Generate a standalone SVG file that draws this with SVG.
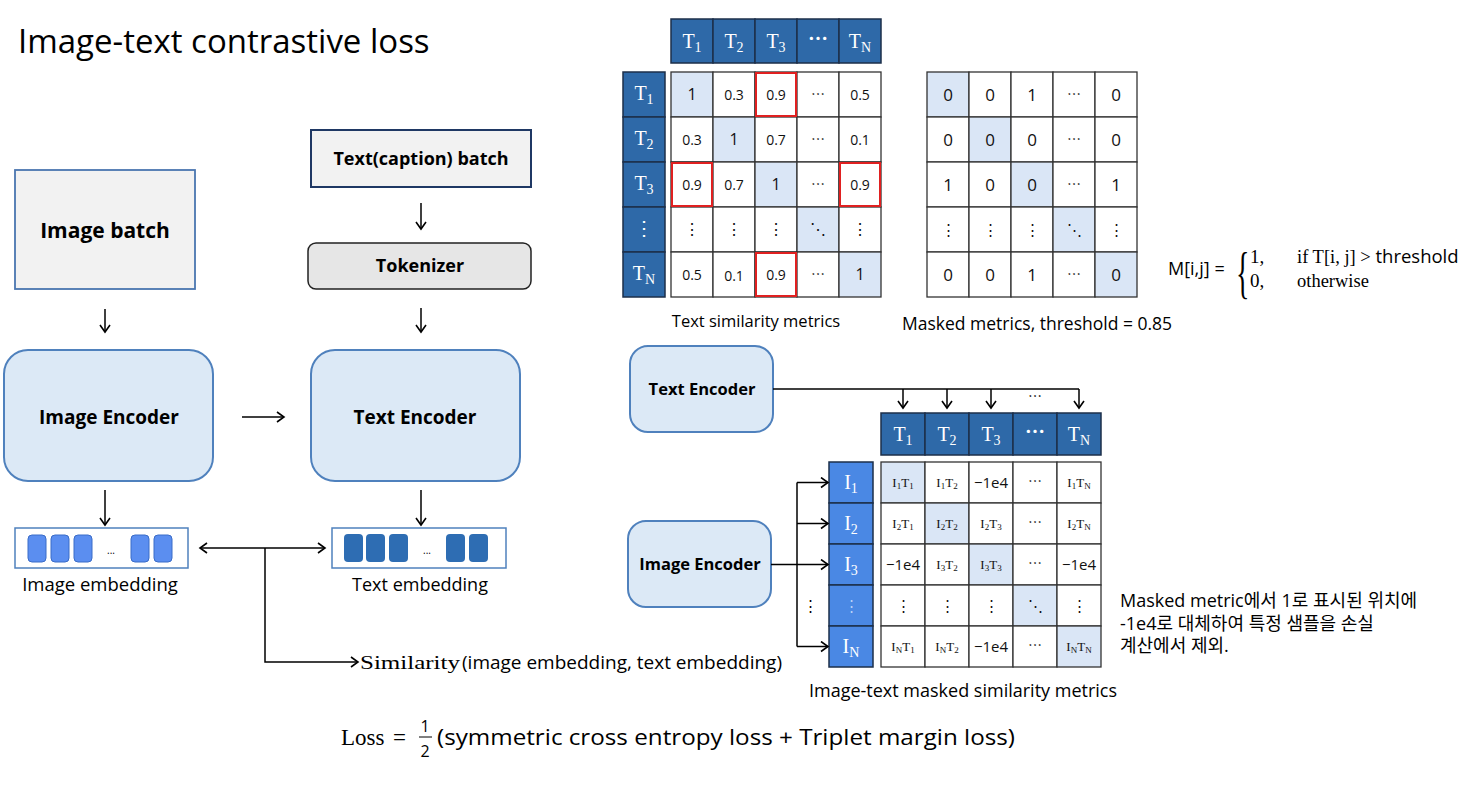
<svg xmlns="http://www.w3.org/2000/svg" width="1461" height="791" viewBox="0 0 1461 791">
<defs>
<marker id="ah" markerWidth="12" markerHeight="12" refX="9" refY="6" orient="auto-start-reverse" markerUnits="userSpaceOnUse">
<path d="M2,1 L9,6 L2,11" fill="none" stroke="#000" stroke-width="1.6"/>
</marker>
<style>
.sans{font-family:"Open Sans","Noto Sans CJK KR",sans-serif;}
.serif{font-family:"Liberation Serif","DejaVu Serif","Noto Sans CJK KR",serif;}
.b{font-weight:bold;}
.ln{fill:none;stroke:#000;stroke-width:1.5;}
.arr{fill:none;stroke:#000;stroke-width:1.5;marker-end:url(#ah);}
.hdr{fill:#2e69a8;stroke:#1c2f4a;stroke-width:1.5;}
.icol{fill:#4a88e4;stroke:#1c2f4a;stroke-width:1.5;}
.cell{fill:#fff;stroke:#333;stroke-width:1.3;}
.hl{fill:#dae6f6;stroke:#333;stroke-width:1.3;}
.red{fill:none;stroke:#e02020;stroke-width:2;}
.wt{fill:#fff;font-size:20px;}
.ct{font-size:14px;fill:#111;}
.ij{font-size:13px;fill:#111;}
.enc{fill:#dce9f6;stroke:#4f81bd;stroke-width:2;}
.ec1{fill:#5b8ef0;stroke:#3a6cc8;stroke-width:1;}
.ec2{fill:#2e6db3;}
</style>
</defs>

<text x="18" y="53" class="sans" font-size="33" fill="#000">Image-text contrastive loss</text>

<!-- Left pipeline -->
<g id="image-batch">
<rect x="15" y="170" width="180" height="119" fill="#f2f2f2" stroke="#4a76b0" stroke-width="1.8"/>
<text x="105" y="238" class="sans b" font-size="21" text-anchor="middle">Image batch</text>
</g>
<g id="text-batch">
<rect x="311" y="130" width="220" height="57" fill="#f2f2f2" stroke="#1f3864" stroke-width="2"/>
<text x="421" y="165" class="sans b" font-size="18" text-anchor="middle">Text(caption) batch</text>
</g>
<g id="tokenizer">
<rect x="308" y="243" width="223" height="46" rx="8" fill="#e6e6e6" stroke="#222" stroke-width="1.5"/>
<text x="420" y="272" class="sans b" font-size="18" text-anchor="middle">Tokenizer</text>
</g>
<g id="image-encoder">
<rect x="4" y="350" width="209" height="131" rx="24" class="enc"/>
<text x="109" y="424" class="sans b" font-size="19" text-anchor="middle">Image Encoder</text>
</g>
<g id="text-encoder">
<rect x="311" y="350" width="209" height="131" rx="24" class="enc"/>
<text x="415" y="424" class="sans b" font-size="19" text-anchor="middle">Text Encoder</text>
</g>
<g id="image-embedding">
<rect x="15" y="528" width="173" height="40" fill="#fff" stroke="#4f81bd" stroke-width="1.5"/>
<rect x="28" y="535" width="18" height="27" rx="4" class="ec1"/>
<rect x="51" y="535" width="18" height="27" rx="4" class="ec1"/>
<rect x="74" y="535" width="18" height="27" rx="4" class="ec1"/>
<text x="111" y="554" class="sans" font-size="10" text-anchor="middle">...</text>
<rect x="131" y="535" width="18" height="27" rx="4" class="ec1"/>
<rect x="154" y="535" width="18" height="27" rx="4" class="ec1"/>
<text x="100" y="591" class="sans" font-size="18.5" text-anchor="middle">Image embedding</text>
</g>
<g id="text-embedding">
<rect x="332" y="528" width="174" height="40" fill="#fff" stroke="#4f81bd" stroke-width="1.5"/>
<rect x="344" y="534" width="19" height="28" rx="4" class="ec2"/>
<rect x="366" y="534" width="19" height="28" rx="4" class="ec2"/>
<rect x="389" y="534" width="19" height="28" rx="4" class="ec2"/>
<text x="427" y="554" class="sans" font-size="10" text-anchor="middle">...</text>
<rect x="446" y="534" width="19" height="28" rx="4" class="ec2"/>
<rect x="469" y="534" width="19" height="28" rx="4" class="ec2"/>
<text x="420" y="591" class="sans" font-size="18" text-anchor="middle">Text embedding</text>
</g>
<g id="similarity-label">
<text x="360" y="669" class="serif" font-size="18" textLength="100" lengthAdjust="spacingAndGlyphs">Similarity</text>
<text x="462" y="669" class="sans" font-size="18" textLength="320" lengthAdjust="spacingAndGlyphs">(image embedding, text embedding)</text>
</g>

<!-- Top text similarity matrix -->
<g id="text-sim-matrix">
<rect x="671" y="19" width="42" height="44" class="hdr"/>
<rect x="713" y="19" width="42" height="44" class="hdr"/>
<rect x="755" y="19" width="42" height="44" class="hdr"/>
<rect x="797" y="19" width="42" height="44" class="hdr"/>
<rect x="839" y="19" width="42" height="44" class="hdr"/>
<text x="692" y="48" class="serif wt" text-anchor="middle">T<tspan dy="4" font-size="14">1</tspan></text>
<text x="734" y="48" class="serif wt" text-anchor="middle">T<tspan dy="4" font-size="14">2</tspan></text>
<text x="776" y="48" class="serif wt" text-anchor="middle">T<tspan dy="4" font-size="14">3</tspan></text>
<text x="818" y="46" class="sans wt b" font-size="16" text-anchor="middle">⋯</text>
<text x="860" y="48" class="serif wt" text-anchor="middle">T<tspan dy="4" font-size="14">N</tspan></text>

<rect x="623" y="72" width="42" height="45" class="hdr"/>
<rect x="623" y="117" width="42" height="45" class="hdr"/>
<rect x="623" y="162" width="42" height="45" class="hdr"/>
<rect x="623" y="207" width="42" height="45" class="hdr"/>
<rect x="623" y="252" width="42" height="45" class="hdr"/>
<text x="644" y="100" class="serif wt" text-anchor="middle">T<tspan dy="4" font-size="14">1</tspan></text>
<text x="644" y="145" class="serif wt" text-anchor="middle">T<tspan dy="4" font-size="14">2</tspan></text>
<text x="644" y="190" class="serif wt" text-anchor="middle">T<tspan dy="4" font-size="14">3</tspan></text>
<text x="644" y="235" class="sans wt" font-size="16" text-anchor="middle">⋮</text>
<text x="644" y="280" class="serif wt" text-anchor="middle">T<tspan dy="4" font-size="14">N</tspan></text>

<rect x="671" y="72" width="42" height="45" class="hl"/>
<rect x="713" y="72" width="42" height="45" class="cell"/>
<rect x="755" y="72" width="42" height="45" class="cell"/>
<rect x="797" y="72" width="42" height="45" class="cell"/>
<rect x="839" y="72" width="42" height="45" class="cell"/>
<rect x="671" y="117" width="42" height="45" class="cell"/>
<rect x="713" y="117" width="42" height="45" class="hl"/>
<rect x="755" y="117" width="42" height="45" class="cell"/>
<rect x="797" y="117" width="42" height="45" class="cell"/>
<rect x="839" y="117" width="42" height="45" class="cell"/>
<rect x="671" y="162" width="42" height="45" class="cell"/>
<rect x="713" y="162" width="42" height="45" class="cell"/>
<rect x="755" y="162" width="42" height="45" class="hl"/>
<rect x="797" y="162" width="42" height="45" class="cell"/>
<rect x="839" y="162" width="42" height="45" class="cell"/>
<rect x="671" y="207" width="42" height="45" class="cell"/>
<rect x="713" y="207" width="42" height="45" class="cell"/>
<rect x="755" y="207" width="42" height="45" class="cell"/>
<rect x="797" y="207" width="42" height="45" class="hl"/>
<rect x="839" y="207" width="42" height="45" class="cell"/>
<rect x="671" y="252" width="42" height="45" class="cell"/>
<rect x="713" y="252" width="42" height="45" class="cell"/>
<rect x="755" y="252" width="42" height="45" class="cell"/>
<rect x="797" y="252" width="42" height="45" class="cell"/>
<rect x="839" y="252" width="42" height="45" class="hl"/>

<rect x="756" y="73" width="40" height="43" class="red"/>
<rect x="672" y="163" width="40" height="43" class="red"/>
<rect x="840" y="163" width="40" height="43" class="red"/>
<rect x="756" y="253" width="40" height="43" class="red"/>

<g class="sans ct" text-anchor="middle">
<text x="692" y="100" font-size="16">1</text>
<text x="734" y="100">0.3</text>
<text x="776" y="100">0.9</text>
<text x="818" y="99">⋯</text>
<text x="860" y="100">0.5</text>
<text x="692" y="145">0.3</text>
<text x="734" y="145" font-size="16">1</text>
<text x="776" y="145">0.7</text>
<text x="818" y="144">⋯</text>
<text x="860" y="145">0.1</text>
<text x="692" y="190">0.9</text>
<text x="734" y="190">0.7</text>
<text x="776" y="190" font-size="16">1</text>
<text x="818" y="189">⋯</text>
<text x="860" y="190">0.9</text>
<text x="692" y="235" font-size="16">⋮</text>
<text x="734" y="235" font-size="16">⋮</text>
<text x="776" y="235" font-size="16">⋮</text>
<text x="818" y="235" font-size="16">⋱</text>
<text x="860" y="235" font-size="16">⋮</text>
<text x="692" y="280">0.5</text>
<text x="734" y="281">0.1</text>
<text x="776" y="280">0.9</text>
<text x="818" y="279">⋯</text>
<text x="860" y="280" font-size="16">1</text>
</g>
<text x="756" y="327" class="sans" font-size="16.5" text-anchor="middle">Text similarity metrics</text>
</g>

<!-- Masked matrix -->
<g id="masked-matrix">
<rect x="927" y="72" width="42" height="45" class="hl"/>
<rect x="969" y="72" width="42" height="45" class="cell"/>
<rect x="1011" y="72" width="42" height="45" class="cell"/>
<rect x="1053" y="72" width="42" height="45" class="cell"/>
<rect x="1095" y="72" width="42" height="45" class="cell"/>
<rect x="927" y="117" width="42" height="45" class="cell"/>
<rect x="969" y="117" width="42" height="45" class="hl"/>
<rect x="1011" y="117" width="42" height="45" class="cell"/>
<rect x="1053" y="117" width="42" height="45" class="cell"/>
<rect x="1095" y="117" width="42" height="45" class="cell"/>
<rect x="927" y="162" width="42" height="45" class="cell"/>
<rect x="969" y="162" width="42" height="45" class="cell"/>
<rect x="1011" y="162" width="42" height="45" class="hl"/>
<rect x="1053" y="162" width="42" height="45" class="cell"/>
<rect x="1095" y="162" width="42" height="45" class="cell"/>
<rect x="927" y="207" width="42" height="45" class="cell"/>
<rect x="969" y="207" width="42" height="45" class="cell"/>
<rect x="1011" y="207" width="42" height="45" class="cell"/>
<rect x="1053" y="207" width="42" height="45" class="hl"/>
<rect x="1095" y="207" width="42" height="45" class="cell"/>
<rect x="927" y="252" width="42" height="45" class="cell"/>
<rect x="969" y="252" width="42" height="45" class="cell"/>
<rect x="1011" y="252" width="42" height="45" class="cell"/>
<rect x="1053" y="252" width="42" height="45" class="cell"/>
<rect x="1095" y="252" width="42" height="45" class="hl"/>
<g class="sans" font-size="17" text-anchor="middle" fill="#111">
<text x="948" y="101">0</text><text x="990" y="101">0</text><text x="1032" y="101">1</text><text x="1074" y="99" font-size="14">⋯</text><text x="1116" y="101">0</text>
<text x="948" y="146">0</text><text x="990" y="146">0</text><text x="1032" y="146">0</text><text x="1074" y="144" font-size="14">⋯</text><text x="1116" y="146">0</text>
<text x="948" y="191">1</text><text x="990" y="191">0</text><text x="1032" y="191">0</text><text x="1074" y="189" font-size="14">⋯</text><text x="1116" y="191">1</text>
<text x="948" y="235" font-size="15">⋮</text><text x="990" y="235" font-size="15">⋮</text><text x="1032" y="235" font-size="15">⋮</text><text x="1074" y="235" font-size="15">⋱</text><text x="1116" y="235" font-size="15">⋮</text>
<text x="948" y="281">0</text><text x="990" y="281">0</text><text x="1032" y="281">1</text><text x="1074" y="279" font-size="14">⋯</text><text x="1116" y="281">0</text>
</g>
<text x="902" y="330" class="sans" font-size="17.5">Masked metrics, threshold = 0.85</text>
</g>

<!-- Mask formula -->
<g id="mask-formula">
<text x="1168" y="275" class="sans" font-size="18">M[i,j]  =</text>
<text transform="translate(1236,292) scale(0.5,1)" class="serif" font-size="56">{</text>
<text x="1250" y="263" class="serif" font-size="19">1,</text>
<text x="1250" y="287" class="serif" font-size="19">0,</text>
<text x="1297" y="263" font-size="18.5"><tspan class="serif">if T[i, j]  &gt; </tspan><tspan class="sans">threshold</tspan></text>
<text x="1297" y="287" class="serif" font-size="18.5">otherwise</text>
</g>

<!-- Right side encoders -->
<g id="text-encoder-2">
<rect x="630" y="346" width="143" height="86" rx="18" class="enc"/>
<text x="702" y="395" class="sans b" font-size="16.5" text-anchor="middle">Text Encoder</text>
</g>
<g id="image-encoder-2">
<rect x="628" y="521" width="143" height="86" rx="18" class="enc"/>
<text x="700" y="570" class="sans b" font-size="16.5" text-anchor="middle">Image Encoder</text>
</g>

<!-- Image-text masked similarity matrix -->
<g id="it-matrix">
<rect x="881" y="413" width="44" height="42" class="hdr"/>
<rect x="925" y="413" width="44" height="42" class="hdr"/>
<rect x="969" y="413" width="44" height="42" class="hdr"/>
<rect x="1013" y="413" width="44" height="42" class="hdr"/>
<rect x="1057" y="413" width="44" height="42" class="hdr"/>
<text x="903" y="441" class="serif wt" text-anchor="middle">T<tspan dy="4" font-size="14">1</tspan></text>
<text x="947" y="441" class="serif wt" text-anchor="middle">T<tspan dy="4" font-size="14">2</tspan></text>
<text x="991" y="441" class="serif wt" text-anchor="middle">T<tspan dy="4" font-size="14">3</tspan></text>
<text x="1035" y="439" class="sans wt b" font-size="16" text-anchor="middle">⋯</text>
<text x="1079" y="441" class="serif wt" text-anchor="middle">T<tspan dy="4" font-size="14">N</tspan></text>

<rect x="829" y="462" width="44" height="41" class="icol"/>
<rect x="829" y="503" width="44" height="41" class="icol"/>
<rect x="829" y="544" width="44" height="41" class="icol"/>
<rect x="829" y="585" width="44" height="41" class="icol"/>
<rect x="829" y="626" width="44" height="41" class="icol"/>
<text x="851" y="489" class="serif wt" text-anchor="middle">I<tspan dy="4" font-size="14">1</tspan></text>
<text x="851" y="530" class="serif wt" text-anchor="middle">I<tspan dy="4" font-size="14">2</tspan></text>
<text x="851" y="571" class="serif wt" text-anchor="middle">I<tspan dy="4" font-size="14">3</tspan></text>
<text x="851" y="611" class="sans" font-size="15" text-anchor="middle" fill="#b8d2f8">⋮</text>
<text x="851" y="653" class="serif wt" text-anchor="middle">I<tspan dy="4" font-size="14">N</tspan></text>

<rect x="881" y="462" width="44" height="41" class="hl"/>
<rect x="925" y="462" width="44" height="41" class="cell"/>
<rect x="969" y="462" width="44" height="41" class="cell"/>
<rect x="1013" y="462" width="44" height="41" class="cell"/>
<rect x="1057" y="462" width="44" height="41" class="cell"/>
<rect x="881" y="503" width="44" height="41" class="cell"/>
<rect x="925" y="503" width="44" height="41" class="hl"/>
<rect x="969" y="503" width="44" height="41" class="cell"/>
<rect x="1013" y="503" width="44" height="41" class="cell"/>
<rect x="1057" y="503" width="44" height="41" class="cell"/>
<rect x="881" y="544" width="44" height="41" class="cell"/>
<rect x="925" y="544" width="44" height="41" class="cell"/>
<rect x="969" y="544" width="44" height="41" class="hl"/>
<rect x="1013" y="544" width="44" height="41" class="cell"/>
<rect x="1057" y="544" width="44" height="41" class="cell"/>
<rect x="881" y="585" width="44" height="41" class="cell"/>
<rect x="925" y="585" width="44" height="41" class="cell"/>
<rect x="969" y="585" width="44" height="41" class="cell"/>
<rect x="1013" y="585" width="44" height="41" class="hl"/>
<rect x="1057" y="585" width="44" height="41" class="cell"/>
<rect x="881" y="626" width="44" height="41" class="cell"/>
<rect x="925" y="626" width="44" height="41" class="cell"/>
<rect x="969" y="626" width="44" height="41" class="cell"/>
<rect x="1013" y="626" width="44" height="41" class="cell"/>
<rect x="1057" y="626" width="44" height="41" class="hl"/>

<g class="serif ij" text-anchor="middle">
<text x="903" y="487">I<tspan dy="2" font-size="9">1</tspan><tspan dy="-2">T</tspan><tspan dy="2" font-size="9">1</tspan></text>
<text x="947" y="487">I<tspan dy="2" font-size="9">1</tspan><tspan dy="-2">T</tspan><tspan dy="2" font-size="9">2</tspan></text>
<text x="1079" y="487">I<tspan dy="2" font-size="9">1</tspan><tspan dy="-2">T</tspan><tspan dy="2" font-size="9">N</tspan></text>
<text x="903" y="528">I<tspan dy="2" font-size="9">2</tspan><tspan dy="-2">T</tspan><tspan dy="2" font-size="9">1</tspan></text>
<text x="947" y="528">I<tspan dy="2" font-size="9">2</tspan><tspan dy="-2">T</tspan><tspan dy="2" font-size="9">2</tspan></text>
<text x="991" y="528">I<tspan dy="2" font-size="9">2</tspan><tspan dy="-2">T</tspan><tspan dy="2" font-size="9">3</tspan></text>
<text x="1079" y="528">I<tspan dy="2" font-size="9">2</tspan><tspan dy="-2">T</tspan><tspan dy="2" font-size="9">N</tspan></text>
<text x="947" y="569">I<tspan dy="2" font-size="9">3</tspan><tspan dy="-2">T</tspan><tspan dy="2" font-size="9">2</tspan></text>
<text x="991" y="569">I<tspan dy="2" font-size="9">3</tspan><tspan dy="-2">T</tspan><tspan dy="2" font-size="9">3</tspan></text>
<text x="903" y="651">I<tspan dy="2" font-size="9">N</tspan><tspan dy="-2">T</tspan><tspan dy="2" font-size="9">1</tspan></text>
<text x="947" y="651">I<tspan dy="2" font-size="9">N</tspan><tspan dy="-2">T</tspan><tspan dy="2" font-size="9">2</tspan></text>
<text x="1079" y="651">I<tspan dy="2" font-size="9">N</tspan><tspan dy="-2">T</tspan><tspan dy="2" font-size="9">N</tspan></text>
</g>
<g class="sans" font-size="15" text-anchor="middle" fill="#111">
<text x="991" y="488">−1e4</text>
<text x="1035" y="486" font-size="14">⋯</text>
<text x="1035" y="527" font-size="14">⋯</text>
<text x="903" y="570">−1e4</text>
<text x="1035" y="568" font-size="14">⋯</text>
<text x="1079" y="570">−1e4</text>
<text x="903" y="611">⋮</text>
<text x="947" y="611">⋮</text>
<text x="991" y="611">⋮</text>
<text x="1035" y="611">⋱</text>
<text x="1079" y="611">⋮</text>
<text x="991" y="652">−1e4</text>
<text x="1035" y="650" font-size="14">⋯</text>
</g>
<text x="963" y="697" class="sans" font-size="18" text-anchor="middle">Image-text masked similarity metrics</text>
</g>

<!-- Notes -->
<g id="note" class="sans" font-size="18" fill="#000">
<text x="1120" y="607">Masked metric에서 1로 표시된 위치에</text>
<text x="1120" y="630">-1e4로 대체하여 특정 샘플을 손실</text>
<text x="1120" y="652">계산에서 제외.</text>
</g>

<g id="loss-formula">
<text x="341" y="745" class="serif" font-size="23">Loss</text>
<text x="393" y="745" class="serif" font-size="23">=</text>
<text x="425" y="732" class="sans" font-size="16" text-anchor="middle">1</text>
<line x1="419" y1="737" x2="432" y2="737" stroke="#000" stroke-width="1"/>
<text x="425" y="757" class="sans" font-size="16" text-anchor="middle">2</text>
<text x="437" y="745" class="sans" font-size="22" textLength="578" lengthAdjust="spacingAndGlyphs">(symmetric cross entropy loss + Triplet margin loss)</text>
</g>

<!-- Connectors -->
<g id="connectors">
<line x1="105" y1="309" x2="105" y2="332" class="arr"/>
<line x1="421" y1="203" x2="421" y2="229" class="arr"/>
<line x1="421" y1="308" x2="421" y2="332" class="arr"/>
<line x1="242" y1="417" x2="284" y2="417" class="arr"/>
<line x1="105" y1="490" x2="105" y2="525" class="arr"/>
<line x1="421" y1="490" x2="421" y2="525" class="arr"/>
<line x1="200" y1="548" x2="325" y2="548" class="arr" style="marker-start:url(#ah)"/>
<polyline points="265,548 265,662 358,662" class="arr"/>

<line x1="773" y1="389" x2="1079" y2="389" class="ln"/>
<line x1="903" y1="389" x2="903" y2="408" class="arr"/>
<line x1="947" y1="389" x2="947" y2="408" class="arr"/>
<line x1="991" y1="389" x2="991" y2="408" class="arr"/>
<line x1="1079" y1="389" x2="1079" y2="408" class="arr"/>
<text x="1035" y="401" class="sans" font-size="14" text-anchor="middle">⋯</text>

<line x1="771" y1="564.5" x2="828" y2="564.5" class="arr"/>
<line x1="797" y1="482.5" x2="797" y2="646.5" class="ln"/>
<line x1="797" y1="482.5" x2="828" y2="482.5" class="arr"/>
<line x1="797" y1="523.5" x2="828" y2="523.5" class="arr"/>
<line x1="797" y1="646.5" x2="828" y2="646.5" class="arr"/>
<text x="810" y="611" class="sans" font-size="15" text-anchor="middle">⋮</text>
</g>
</svg>
